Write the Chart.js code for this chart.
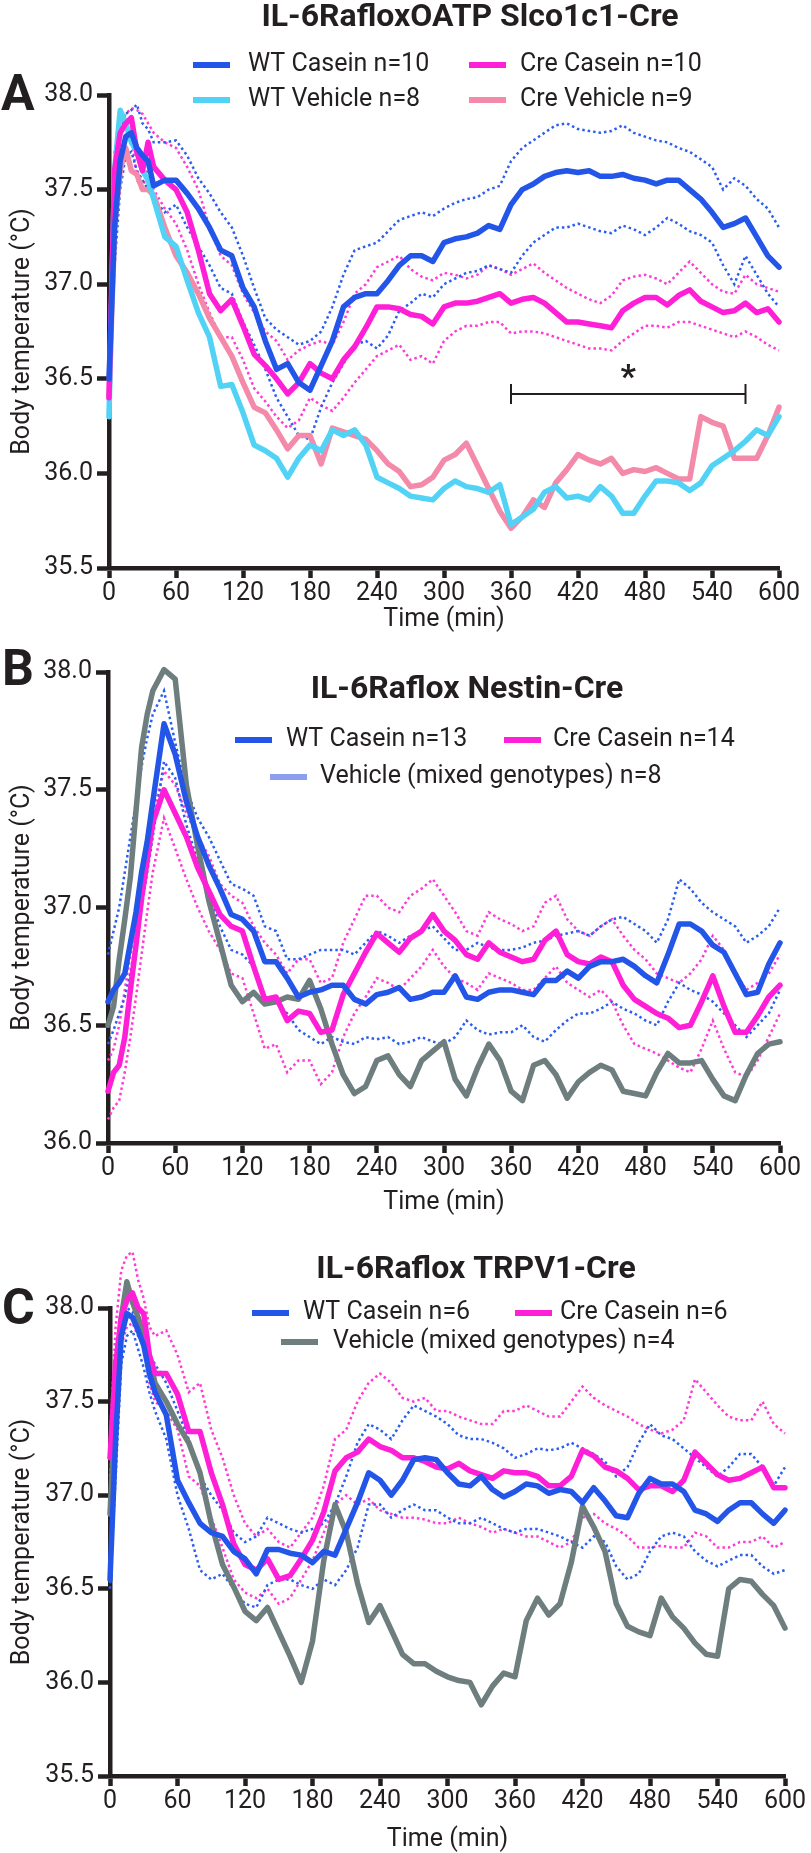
<!DOCTYPE html>
<html>
<head>
<meta charset="utf-8">
<script src="https://cdn.jsdelivr.net/npm/chart.js@4.4.1/dist/chart.umd.min.js"></script>
<style>
  body { margin: 0; background: #fff; }
  #wrap { position: relative; width: 811px; height: 1853px; }
  canvas { position: absolute; left: 0; }
</style>
</head>
<body>
<div id="wrap">
  <canvas id="chartA" width="811" height="640" style="top:0px"></canvas>
  <canvas id="chartB" width="811" height="590" style="top:640px"></canvas>
  <canvas id="chartC" width="811" height="623" style="top:1230px"></canvas>
</div>
<script>
// sample times (min)
const times = [0, 5, 10, 15, 20, 25, 30, 35, 40,
  50, 60, 70, 80, 90, 100, 110, 120, 130, 140,
  150, 160, 170, 180, 190, 200, 210, 220, 230, 240,
  250, 260, 270, 280, 290, 300, 310, 320, 330, 340,
  350, 360, 370, 380, 390, 400, 410, 420, 430, 440,
  450, 460, 470, 480, 490, 500, 510, 520, 530, 540,
  550, 560, 570, 580, 590, 600];
const xTicks = [0, 60, 120, 180, 240, 300, 360, 420, 480, 540, 600];

// ---- Panel A: IL-6RafloxOATP Slco1c1-Cre ----
const aWtCasein = [36.5, 37.3, 37.65, 37.78, 37.8, 37.72, 37.68, 37.65, 37.52,
  37.55, 37.55, 37.48, 37.4, 37.3, 37.18, 37.15, 36.98, 36.88, 36.7,
  36.55, 36.58, 36.48, 36.44, 36.57, 36.7, 36.88, 36.93, 36.95, 36.95,
  37.02, 37.1, 37.15, 37.15, 37.12, 37.22, 37.24, 37.25, 37.27, 37.31,
  37.29, 37.42, 37.5, 37.53, 37.57, 37.59, 37.6, 37.59, 37.6, 37.57,
  37.57, 37.58, 37.56, 37.55, 37.53, 37.55, 37.55, 37.5, 37.45, 37.38,
  37.3, 37.32, 37.35, 37.25, 37.15, 37.09];
const aCreCasein = [36.4, 37.6, 37.8, 37.85, 37.88, 37.7, 37.6, 37.75, 37.62,
  37.55, 37.5, 37.38, 37.18, 36.95, 36.86, 36.92, 36.78, 36.63, 36.57,
  36.5, 36.42, 36.48, 36.58, 36.53, 36.5, 36.6, 36.67, 36.77, 36.88,
  36.88, 36.87, 36.84, 36.83, 36.79, 36.88, 36.9, 36.9, 36.91, 36.93,
  36.95, 36.9, 36.92, 36.93, 36.9, 36.85, 36.8, 36.8, 36.79, 36.78,
  36.77, 36.86, 36.9, 36.93, 36.93, 36.89, 36.94, 36.97, 36.91, 36.88,
  36.85, 36.86, 36.9, 36.85, 36.87, 36.8];
const aWtVehicle = [36.3, 37.6, 37.92, 37.85, 37.75, 37.7, 37.6, 37.55, 37.45,
  37.25, 37.2, 37.02, 36.85, 36.72, 36.46, 36.47, 36.32, 36.15, 36.12,
  36.08, 35.98, 36.08, 36.15, 36.12, 36.23, 36.2, 36.23, 36.15, 35.98,
  35.95, 35.92, 35.88, 35.87, 35.86, 35.92, 35.96, 35.93, 35.92, 35.9,
  35.94, 35.73, 35.77, 35.81, 35.9, 35.93, 35.87, 35.88, 35.86, 35.93,
  35.88, 35.79, 35.79, 35.88, 35.96, 35.96, 35.95, 35.91, 35.95, 36.04,
  36.08, 36.12, 36.17, 36.23, 36.2, 36.3];
const aCreVehicle = [36.4, 37.3, 37.6, 37.72, 37.6, 37.58, 37.5, 37.5, 37.47,
  37.3, 37.15, 37.06, 36.95, 36.82, 36.72, 36.62, 36.48, 36.35, 36.32,
  36.23, 36.13, 36.2, 36.2, 36.05, 36.24, 36.22, 36.2, 36.18, 36.12,
  36.05, 36.01, 35.93, 35.94, 35.98, 36.07, 36.1, 36.16, 36.04, 35.92,
  35.8, 35.71, 35.77, 35.86, 35.82, 35.95, 36.02, 36.1, 36.07, 36.05,
  36.08, 36.0, 36.02, 36.01, 36.03, 36.0, 35.97, 35.97, 36.3, 36.27,
  36.25, 36.08, 36.08, 36.08, 36.2, 36.35];
const aWtUpper = [36.6, 37.5, 37.8, 37.9, 37.92, 37.95, 37.85, 37.82, 37.75,
  37.75, 37.76, 37.68, 37.56, 37.48, 37.38, 37.3, 37.15, 36.98, 36.82,
  36.76, 36.72, 36.68, 36.7, 36.75, 36.88, 37.05, 37.18, 37.2, 37.22,
  37.28, 37.34, 37.36, 37.38, 37.36, 37.4, 37.43, 37.45, 37.46, 37.5,
  37.52, 37.65, 37.72, 37.76, 37.8, 37.84, 37.85, 37.82, 37.81, 37.8,
  37.81, 37.84, 37.8, 37.78, 37.76, 37.75, 37.72, 37.7, 37.66, 37.62,
  37.5, 37.56, 37.52, 37.45, 37.4, 37.3];
const aWtLower = [36.4, 37.1, 37.5, 37.68, 37.7, 37.6, 37.55, 37.5, 37.45,
  37.38, 37.42, 37.3, 37.2, 37.1, 36.98, 36.95, 36.8, 36.68, 36.55,
  36.4, 36.3, 36.2, 36.18, 36.35, 36.48, 36.58, 36.68, 36.7, 36.66,
  36.73, 36.86, 36.9, 36.95, 36.93, 37.0, 37.03, 37.06, 37.07, 37.1,
  37.08, 37.06, 37.15, 37.22, 37.26, 37.3, 37.3, 37.32, 37.3, 37.28,
  37.27, 37.31, 37.29, 37.26, 37.3, 37.35, 37.32, 37.28, 37.26, 37.22,
  37.1, 37.0, 37.15, 37.05, 36.95, 36.88];
const aCreUpper = [36.5, 37.7, 37.85, 37.9, 37.93, 37.92, 37.9, 37.85, 37.8,
  37.75, 37.72, 37.62, 37.5, 37.3, 37.15, 37.1, 36.95, 36.85, 36.75,
  36.7, 36.6, 36.65, 36.68, 36.7, 36.68, 36.8, 36.95, 37.0, 37.09,
  37.12, 37.15, 37.08, 37.04, 37.02, 37.06, 37.05, 37.03, 37.05, 37.1,
  37.08, 37.05, 37.08, 37.11, 37.06, 37.02, 36.98, 36.95, 36.92, 36.9,
  36.94, 37.02, 37.04, 37.05, 37.03, 37.0, 37.06, 37.12, 37.06, 37.0,
  36.96, 36.95, 37.05, 37.0, 36.98, 36.96];
const aCreLower = [36.3, 37.4, 37.7, 37.75, 37.8, 37.55, 37.5, 37.62, 37.5,
  37.4, 37.32, 37.18, 37.0, 36.85, 36.72, 36.72, 36.6, 36.45, 36.38,
  36.3, 36.24, 36.28, 36.4, 36.36, 36.33, 36.4, 36.48, 36.55, 36.62,
  36.65, 36.68, 36.6, 36.62, 36.58, 36.7, 36.75, 36.78, 36.78, 36.8,
  36.8, 36.74, 36.75, 36.75, 36.74, 36.72, 36.7, 36.68, 36.66, 36.66,
  36.65, 36.7, 36.74, 36.78, 36.78, 36.77, 36.8, 36.8, 36.78, 36.76,
  36.74, 36.72, 36.75, 36.72, 36.68, 36.65];
const aSigSpan = [360, 570];   // min
const aSigLevel = 36.42;       // degC, bracket
const aStarLevel = 36.53;      // degC, asterisk

// ---- Panel B: IL-6Raflox Nestin-Cre ----
const bWtCasein = [36.6, 36.65, 36.68, 36.72, 36.85, 36.98, 37.15, 37.28, 37.45,
  37.78, 37.65, 37.45, 37.3, 37.18, 37.08, 36.97, 36.95, 36.9, 36.77,
  36.77, 36.7, 36.62, 36.64, 36.65, 36.67, 36.67, 36.61, 36.59, 36.63,
  36.64, 36.66, 36.61, 36.62, 36.64, 36.64, 36.71, 36.62, 36.61, 36.64,
  36.65, 36.65, 36.64, 36.63, 36.69, 36.69, 36.73, 36.7, 36.75, 36.77,
  36.77, 36.78, 36.75, 36.71, 36.68, 36.8, 36.93, 36.93, 36.9, 36.84,
  36.81, 36.72, 36.63, 36.64, 36.76, 36.85];
const bCreCasein = [36.22, 36.3, 36.33, 36.45, 36.65, 36.84, 37.04, 37.2, 37.36,
  37.5, 37.4, 37.3, 37.17, 37.07, 36.97, 36.92, 36.9, 36.75, 36.61,
  36.62, 36.52, 36.56, 36.55, 36.47, 36.48, 36.63, 36.72, 36.81, 36.89,
  36.85, 36.81, 36.87, 36.9, 36.97, 36.9, 36.86, 36.8, 36.78, 36.85,
  36.81, 36.79, 36.77, 36.78, 36.86, 36.9, 36.8, 36.77, 36.76, 36.79,
  36.77, 36.67, 36.61, 36.58, 36.55, 36.53, 36.49, 36.5, 36.6, 36.71,
  36.58, 36.47, 36.47, 36.54, 36.62, 36.67];
const bVehicle = [36.5, 36.58, 36.78, 36.95, 37.13, 37.41, 37.68, 37.82, 37.92,
  38.01, 37.97, 37.52, 37.26, 37.03, 36.85, 36.67, 36.6, 36.64, 36.59,
  36.6, 36.62, 36.61, 36.69, 36.57, 36.42, 36.29, 36.21, 36.24, 36.35,
  36.37, 36.29, 36.24, 36.35, 36.39, 36.43, 36.27, 36.2, 36.32, 36.42,
  36.35, 36.22, 36.18, 36.33, 36.35, 36.29, 36.19, 36.26, 36.3, 36.33,
  36.31, 36.22, 36.21, 36.2, 36.3, 36.38, 36.34, 36.34, 36.35, 36.27,
  36.2, 36.18, 36.29, 36.38, 36.42, 36.43];
const bWtUpper = [36.8, 36.9, 37.0, 37.15, 37.3, 37.45, 37.6, 37.72, 37.82,
  37.92, 37.7, 37.5, 37.38, 37.3, 37.2, 37.1, 37.08, 37.05, 36.92,
  36.9, 36.78, 36.78, 36.8, 36.82, 36.82, 36.82, 36.8, 36.85, 36.9,
  36.88, 36.85, 36.88, 36.9, 36.92, 36.87, 36.82, 36.82, 36.85, 36.83,
  36.82, 36.82, 36.83, 36.85, 36.86, 36.88, 36.89, 36.9, 36.88, 36.92,
  36.95, 36.96, 36.93, 36.9, 36.85, 36.95, 37.12, 37.08, 37.02, 36.98,
  36.95, 36.92, 36.85, 36.88, 36.92, 37.0];
const bWtLower = [36.42, 36.48, 36.55, 36.62, 36.72, 36.85, 37.0, 37.15, 37.3,
  37.62, 37.55, 37.35, 37.2, 37.05, 36.92, 36.82, 36.8, 36.75, 36.62,
  36.6, 36.55, 36.48, 36.45, 36.42, 36.45, 36.43, 36.42, 36.45, 36.44,
  36.45, 36.42, 36.43, 36.45, 36.43, 36.42, 36.45, 36.52, 36.48, 36.46,
  36.47, 36.47, 36.5, 36.45, 36.43, 36.48, 36.52, 36.55, 36.55, 36.57,
  36.6, 36.57, 36.55, 36.52, 36.5, 36.6, 36.68, 36.65, 36.63, 36.6,
  36.55, 36.5, 36.45, 36.5, 36.55, 36.65];
const bCreUpper = [36.35, 36.4, 36.5, 36.65, 36.8, 36.95, 37.1, 37.25, 37.4,
  37.58, 37.52, 37.4, 37.3, 37.22, 37.1, 37.05, 37.02, 36.92, 36.85,
  36.8, 36.72, 36.78, 36.78, 36.68, 36.7, 36.85, 36.95, 37.05, 37.05,
  37.0, 36.98, 37.05, 37.08, 37.12, 37.05, 36.98, 36.9, 36.88, 36.98,
  36.95, 36.93, 36.9, 36.92, 37.02, 37.05, 36.95, 36.9, 36.88, 36.92,
  36.95, 36.88, 36.82, 36.78, 36.72, 36.7, 36.68, 36.72, 36.78, 36.88,
  36.82, 36.72, 36.65, 36.68, 36.72, 36.8];
const bCreLower = [36.1, 36.15, 36.18, 36.3, 36.45, 36.62, 36.8, 36.98, 37.15,
  37.38, 37.25, 37.12, 37.0, 36.9, 36.82, 36.72, 36.7, 36.55, 36.4,
  36.42, 36.3, 36.35, 36.35, 36.25, 36.3, 36.45, 36.55, 36.62, 36.7,
  36.68, 36.65, 36.7, 36.75, 36.82, 36.75, 36.7, 36.68, 36.65, 36.72,
  36.7, 36.68, 36.65, 36.65, 36.7, 36.75, 36.68, 36.65, 36.62, 36.65,
  36.6, 36.5, 36.42, 36.4, 36.38, 36.35, 36.32, 36.3, 36.4, 36.52,
  36.4, 36.3, 36.28, 36.35, 36.45, 36.55];

// ---- Panel C: IL-6Raflox TRPV1-Cre ----
const cWtCasein = [36.55, 37.3, 37.85, 37.97, 37.95, 37.88, 37.8, 37.65, 37.55,
  37.43, 37.08, 36.96, 36.85, 36.8, 36.78, 36.7, 36.66, 36.58, 36.71,
  36.71, 36.69, 36.68, 36.64, 36.7, 36.68, 36.82, 36.96, 37.12, 37.08,
  37.0, 37.08, 37.19, 37.2, 37.19, 37.12, 37.06, 37.05, 37.1, 37.03,
  36.99, 37.02, 37.06, 37.05, 37.01, 37.03, 37.02, 36.96, 37.04, 36.97,
  36.89, 36.88, 37.01, 37.09, 37.06, 37.06, 37.02, 36.92, 36.9, 36.86,
  36.92, 36.96, 36.96, 36.9, 36.85, 36.92];
const cCreCasein = [37.2, 37.7, 37.95, 38.04, 38.08, 38.0, 37.97, 37.75, 37.65,
  37.65, 37.54, 37.34, 37.34, 37.12, 36.95, 36.74, 36.63, 36.6, 36.66,
  36.55, 36.57, 36.66, 36.76, 36.91, 37.13, 37.2, 37.23, 37.3, 37.26,
  37.24, 37.2, 37.2, 37.18, 37.15, 37.14, 37.17, 37.13, 37.11, 37.09,
  37.13, 37.12, 37.12, 37.1, 37.05, 37.05, 37.1, 37.24, 37.21, 37.15,
  37.13, 37.09, 37.03, 37.05, 37.05, 37.02, 37.08, 37.23, 37.17, 37.11,
  37.08, 37.09, 37.12, 37.15, 37.04, 37.04];
const cVehicle = [36.9, 37.5, 37.95, 38.14, 38.03, 37.95, 37.85, 37.73, 37.6,
  37.5, 37.38, 37.28, 37.12, 36.85, 36.63, 36.51, 36.38, 36.33, 36.4,
  36.27, 36.14, 36.0, 36.22, 36.65, 36.95, 36.8, 36.53, 36.32, 36.41,
  36.28, 36.15, 36.1, 36.1, 36.06, 36.03, 36.01, 36.0, 35.88, 35.98,
  36.05, 36.03, 36.33, 36.45, 36.36, 36.42, 36.64, 36.94, 36.83, 36.7,
  36.42, 36.3, 36.27, 36.25, 36.45, 36.35, 36.29, 36.21, 36.15, 36.14,
  36.5, 36.55, 36.54, 36.47, 36.41, 36.29];
const cWtUpper = [36.6, 37.3, 37.9, 38.0, 37.98, 37.92, 37.85, 37.75, 37.7,
  37.6, 37.45, 37.3, 37.1, 37.0, 36.92, 36.8, 36.75, 36.78, 36.88,
  36.85, 36.82, 36.8, 36.82, 36.85, 36.95, 37.1, 37.28, 37.38, 37.35,
  37.3, 37.4, 37.48, 37.45, 37.42, 37.38, 37.32, 37.3, 37.3, 37.28,
  37.25, 37.2, 37.22, 37.25, 37.24, 37.25, 37.28, 37.25, 37.22, 37.18,
  37.1, 37.15, 37.28, 37.38, 37.32, 37.3, 37.25, 37.2, 37.15, 37.1,
  37.15, 37.22, 37.22, 37.15, 37.05, 37.15];
const cWtLower = [36.5, 37.1, 37.7, 37.85, 37.88, 37.78, 37.68, 37.55, 37.45,
  37.3, 37.0, 36.82, 36.6, 36.55, 36.58, 36.5, 36.42, 36.4, 36.52,
  36.55, 36.55, 36.52, 36.5, 36.55, 36.52, 36.6, 36.72, 36.95, 36.95,
  36.88, 36.92, 36.95, 36.92, 36.92, 36.88, 36.85, 36.85, 36.88, 36.85,
  36.82, 36.8, 36.82, 36.82, 36.8, 36.78, 36.75, 36.72, 36.78, 36.75,
  36.62, 36.55, 36.58, 36.7, 36.78, 36.8, 36.78, 36.7, 36.65, 36.62,
  36.65, 36.68, 36.68, 36.62, 36.58, 36.6];
const cCreUpper = [37.3, 37.9, 38.2, 38.28, 38.3, 38.15, 38.05, 37.9, 37.85,
  37.88, 37.75, 37.55, 37.6, 37.35, 37.2, 37.0, 36.85, 36.78, 36.82,
  36.75, 36.72, 36.8, 36.88, 37.05, 37.3, 37.35, 37.5, 37.6, 37.65,
  37.6, 37.52, 37.5, 37.52, 37.45, 37.45, 37.42, 37.4, 37.38, 37.38,
  37.45, 37.45, 37.48, 37.45, 37.42, 37.42, 37.5, 37.58, 37.52, 37.48,
  37.45, 37.42, 37.38, 37.35, 37.33, 37.35, 37.4, 37.62, 37.55, 37.48,
  37.42, 37.4, 37.4, 37.5, 37.38, 37.33];
const cCreLower = [37.1, 37.5, 37.8, 37.9, 37.92, 37.85, 37.8, 37.6, 37.5,
  37.45, 37.35, 37.1, 37.05, 36.88, 36.72, 36.55, 36.48, 36.45, 36.5,
  36.42, 36.45, 36.55, 36.65, 36.8, 36.95, 37.0, 36.95, 36.98, 36.92,
  36.9, 36.88, 36.88, 36.87, 36.85, 36.85, 36.88, 36.85, 36.83, 36.8,
  36.82, 36.8, 36.78, 36.78, 36.75, 36.72, 36.75, 36.88, 36.9, 36.85,
  36.82, 36.78, 36.72, 36.72, 36.73, 36.72, 36.72, 36.8, 36.78, 36.72,
  36.72, 36.75, 36.75, 36.78, 36.72, 36.75];

const ink = '#231f20';
const FONT = 'Roboto, "Noto Sans", sans-serif';
const BLUE = '#2356e8', MAGENTA = '#ff1fd6', CYAN = '#52d3f5', PINK = '#f48aaa', GREY = '#6e7e7f';
const BLUE_DOT = '#2a5ef0', MAGENTA_DOT = '#ff3ad6';

function solid(label, data, color) {
  return { label, data, borderColor: color, borderWidth: 5.5, pointRadius: 0,
    tension: 0, clip: false, borderJoinStyle: 'round', borderCapStyle: 'round' };
}
function dotted(data, color) {
  return { label: '', data, borderColor: color, borderWidth: 2.5, borderDash: [2.5, 3],
    pointRadius: 0, tension: 0, clip: false };
}

// titles, letters, legends and significance bracket
const panelText = {
  id: 'panelText',
  afterDraw(chart, args, o) {
    const ctx = chart.ctx;
    ctx.save();
    ctx.fillStyle = ink;
    ctx.textBaseline = 'middle';
    ctx.textAlign = 'left';
    ctx.font = 'bold 50px ' + FONT;
    ctx.fillText(o.letter, o.letterX, o.letterY);
    ctx.textAlign = 'center';
    ctx.font = 'bold 32px ' + FONT;
    ctx.fillText(o.title, o.titleX, o.titleY);
    ctx.textAlign = 'left';
    ctx.font = '25px ' + FONT;
    o.legend.forEach(it => {
      const ds = chart.data.datasets[it.ds];
      ctx.strokeStyle = it.color || ds.borderColor;
      ctx.lineWidth = 6;
      ctx.beginPath();
      ctx.moveTo(it.x, it.y);
      ctx.lineTo(it.x + 37, it.y);
      ctx.stroke();
      ctx.fillText(ds.label, it.tx, it.y);
    });
    if (o.sig) {
      const xs = chart.scales.x, ys = chart.scales.y;
      const x1 = xs.getPixelForValue(o.sig.span[0]);
      const x2 = xs.getPixelForValue(o.sig.span[1]);
      const y = ys.getPixelForValue(o.sig.level);
      ctx.strokeStyle = ink;
      ctx.lineWidth = 2;
      ctx.beginPath();
      ctx.moveTo(x1, y - 10); ctx.lineTo(x1, y + 10);
      ctx.moveTo(x1, y); ctx.lineTo(x2, y);
      ctx.moveTo(x2, y - 10); ctx.lineTo(x2, y + 10);
      ctx.stroke();
      ctx.textAlign = 'center';
      ctx.font = 'bold 34px ' + FONT;
      ctx.fillText('*', (x1 + x2) / 2, ys.getPixelForValue(o.sig.star) + 6);
    }
    ctx.restore();
  }
};

function makeScales(p) {
  return {
    x: {
      type: 'linear', min: 0, max: 600,
      afterBuildTicks: s => { s.ticks = xTicks.map(v => ({ value: v })); },
      afterFit: s => { s.height = p.xHeight; },
      border: { color: ink, width: 4.5 },
      grid: { drawOnChartArea: false, drawTicks: true, tickLength: 10, tickWidth: 4.5, tickColor: ink },
      ticks: { font: { size: 25, family: FONT, lineHeight: 1 }, color: ink, padding: 3.5, maxRotation: 0, autoSkip: false },
      title: { display: true, text: 'Time (min)', color: ink,
        font: { size: 25, family: FONT, lineHeight: 1 }, padding: { top: 0, bottom: p.xTitlePad } }
    },
    y: {
      type: 'linear', min: p.yMin, max: 38.0,
      afterBuildTicks: s => { s.ticks = p.yTicks.map(v => ({ value: v })); },
      afterFit: s => { s.width = p.yWidth; },
      border: { color: ink, width: 4.5 },
      grid: { drawOnChartArea: false, drawTicks: true, tickLength: 12, tickWidth: 4.5, tickColor: ink },
      ticks: { font: { size: 25, family: FONT }, color: ink, padding: 4, callback: v => v.toFixed(1) },
      title: { display: true, text: 'Body temperature (°C)', color: ink,
        font: { size: 25, family: FONT, lineHeight: 1.2 }, padding: { top: 8, bottom: 0 } }
    }
  };
}

function makeChart(id, datasets, p, text) {
  return new Chart(document.getElementById(id), {
    type: 'line',
    data: { labels: times, datasets },
    options: {
      responsive: false,
      animation: false,
      layout: { padding: { top: p.top, right: p.right, left: 0, bottom: 0 } },
      scales: makeScales(p),
      plugins: { legend: { display: false }, tooltip: { enabled: false }, panelText: text }
    },
    plugins: [panelText]
  });
}

makeChart('chartA', [
  solid('WT Casein n=10', aWtCasein, BLUE),
  solid('Cre Casein n=10', aCreCasein, MAGENTA),
  solid('WT Vehicle n=8', aWtVehicle, CYAN),
  solid('Cre Vehicle n=9', aCreVehicle, PINK),
  dotted(aWtUpper, BLUE_DOT), dotted(aWtLower, BLUE_DOT),
  dotted(aCreUpper, MAGENTA_DOT), dotted(aCreLower, MAGENTA_DOT)
], { top: 95, right: 32, xHeight: 72, yWidth: 109, yMin: 35.5, xTitlePad: 7.5,
     yTicks: [35.5, 36.0, 36.5, 37.0, 37.5, 38.0] },
{ letter: 'A', letterX: 1, letterY: 97, title: 'IL-6RafloxOATP Slco1c1-Cre', titleX: 470, titleY: 18,
  legend: [
    { ds: 0, x: 193, y: 65, tx: 248 }, { ds: 1, x: 469, y: 65, tx: 520 },
    { ds: 2, x: 193, y: 100, tx: 248 }, { ds: 3, x: 469, y: 100, tx: 520 }
  ],
  sig: { span: aSigSpan, level: aSigLevel, star: aStarLevel } });

makeChart('chartB', [
  solid('WT Casein n=13', bWtCasein, BLUE),
  solid('Cre Casein n=14', bCreCasein, MAGENTA),
  solid('Vehicle (mixed genotypes) n=8', bVehicle, GREY),
  dotted(bWtUpper, BLUE_DOT), dotted(bWtLower, BLUE_DOT),
  dotted(bCreUpper, MAGENTA_DOT), dotted(bCreLower, MAGENTA_DOT)
], { top: 32, right: 31, xHeight: 87, yWidth: 108, yMin: 36.0, xTitlePad: 14.5,
     yTicks: [36.0, 36.5, 37.0, 37.5, 38.0] },
{ letter: 'B', letterX: 2, letterY: 32, title: 'IL-6Raflox Nestin-Cre', titleX: 467, titleY: 50,
  legend: [
    { ds: 0, x: 235, y: 100, tx: 286 }, { ds: 1, x: 504, y: 100, tx: 553 },
    { ds: 2, x: 270, y: 137, tx: 320, color: '#8c9ef0' }
  ] });

makeChart('chartC', [
  solid('WT Casein n=6', cWtCasein, BLUE),
  solid('Cre Casein n=6', cCreCasein, MAGENTA),
  solid('Vehicle (mixed genotypes) n=4', cVehicle, GREY),
  dotted(cWtUpper, BLUE_DOT), dotted(cWtLower, BLUE_DOT),
  dotted(cCreUpper, MAGENTA_DOT), dotted(cCreLower, MAGENTA_DOT)
], { top: 78, right: 26, xHeight: 77, yWidth: 110, yMin: 35.5, xTitlePad: 0.5,
     yTicks: [35.5, 36.0, 36.5, 37.0, 37.5, 38.0] },
{ letter: 'C', letterX: 2, letterY: 81, title: 'IL-6Raflox TRPV1-Cre', titleX: 476, titleY: 40,
  legend: [
    { ds: 0, x: 252, y: 83, tx: 303 }, { ds: 1, x: 515, y: 83, tx: 560 },
    { ds: 2, x: 281, y: 112, tx: 333 }
  ] });
</script>
</body>
</html>
